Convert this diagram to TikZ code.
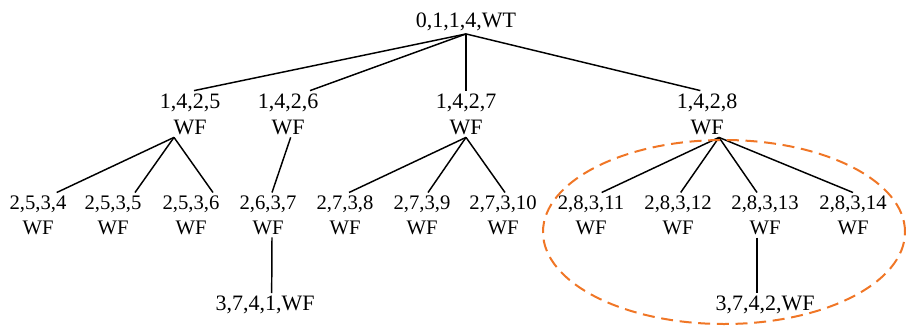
\documentclass[tikz,border=0pt]{standalone}
\usepackage{fontspec}
\setmainfont{Liberation Serif}
\definecolor{ringorange}{RGB}{240,118,38}
\begin{document}
\begin{tikzpicture}[x=0.75pt,y=-0.75pt,
  big/.style={align=center,font=\fontsize{16.5}{19.5}\selectfont,inner sep=2pt},
  small/.style={align=center,font=\fontsize{15.5}{18.8}\selectfont,inner sep=2pt},
  edge/.style={line width=1.1pt}]
\useasboundingbox (0,0) rectangle (906,325);
\node[big] (n0) at (466,22) {0,1,1,4,WT};
\foreach \n/\x in {5/190,6/288,7/466,8/707}
{
	\node[big] (n\n) at (\x,114) {1,4,2,\n\\WF};
}
\foreach \m/\x/\p in {4/38/5,5/113/5,6/191/5,7/268/6,8/345/7,9/422/7,10/503/7,11/591/8,12/678/8,13/765/8,14/853/8}
{
	\node[small] (m\m) at (\x,215) {2,\p,3,\m\\WF};
}
\node[big] (p1) at (265,305) {3,7,4,1,WF};
\node[big] (p2) at (765,305) {3,7,4,2,WF};

\foreach \a/\u/\b/\v in {n0/0/n5/3,n0/0/n6/16.5,n0/0/n7/0,n0/0/n8/-5,
  n5/-12/m4/14,n5/-12/m5/16.5,n5/-12/m6/16.5,n6/2/m7/3,
  n7/0/m8/3,n7/0/m9/4.5,n7/0/m10/1.5,
  n8/9/m11/8,n8/9/m12/2,n8/9/m13/-6,n8/9/m14/0,
  m7/3/p1/5,m13/-6/p2/-6}
{
	\draw[edge] ([xshift=\u pt]\a.south)--([xshift=\v pt]\b.north);
}
\draw[ringorange,line width=1.5pt,dash pattern=on 9pt off 5pt] (724,232) ellipse [x radius=135.75pt, y radius=69pt];
\end{tikzpicture}
\end{document}
